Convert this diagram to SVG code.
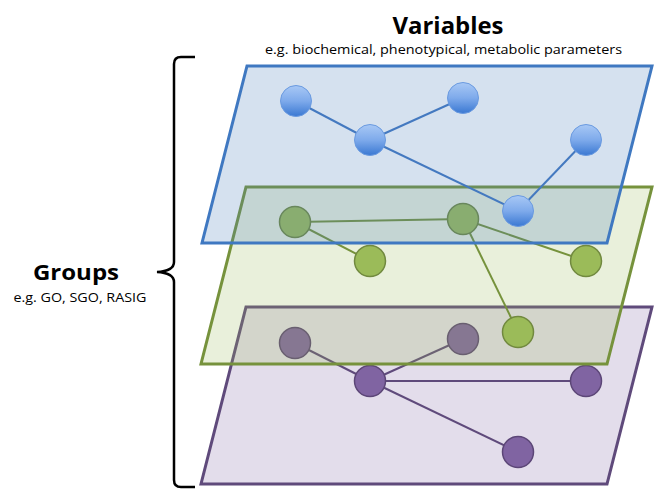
<svg xmlns="http://www.w3.org/2000/svg" width="656" height="491" viewBox="0 0 656 491">
<defs>
<linearGradient id="gBlue" x1="0" y1="0" x2="0" y2="1">
<stop offset="0" stop-color="#a8c8f5"/>
<stop offset="0.5" stop-color="#7eaaeb"/>
<stop offset="1" stop-color="#3a78d2"/>
</linearGradient>
</defs>
<style>
.title{font-family:"Open Sans","Liberation Sans",Arial,sans-serif;font-weight:bold;fill:#000}
.sub{font-family:"Open Sans","Liberation Sans",Arial,sans-serif;fill:#000}
.plane{stroke-width:3;stroke-linejoin:miter}
.pBlue{fill:#4f81bd;fill-opacity:0.24;stroke:#3f78c1}
.pGreen{fill:#9bbb59;fill-opacity:0.22;stroke:#76923c}
.pPurple{fill:#8064a2;fill-opacity:0.22;stroke:#5f4a7b}
.eBlue{stroke:#4479c0;stroke-width:2;fill:none}
.eGreen{stroke:#76923c;stroke-width:2;fill:none}
.ePurple{stroke:#5f4a7b;stroke-width:2;fill:none}
.nBlue{fill:url(#gBlue);stroke:#6a9ae0;stroke-width:1}
.nGreen{fill:#9bbb59;stroke:#71893f;stroke-width:1.5}
.nPurple{fill:#8064a2;stroke:#5c4677;stroke-width:1.5}
.brace{fill:none;stroke:#000;stroke-width:2.5}
</style>
<rect width="656" height="491" fill="#fff"/>

<text class="title" x="448" y="34" font-size="23" text-anchor="middle" textLength="111" lengthAdjust="spacingAndGlyphs">Variables</text>
<text class="sub" x="443.5" y="54" font-size="13.5" text-anchor="middle" textLength="357" lengthAdjust="spacingAndGlyphs">e.g. biochemical, phenotypical, metabolic parameters</text>
<text class="title" x="76" y="280" font-size="22" text-anchor="middle" textLength="86" lengthAdjust="spacingAndGlyphs">Groups</text>
<text class="sub" x="80" y="302" font-size="13" text-anchor="middle" textLength="133" lengthAdjust="spacingAndGlyphs">e.g. GO, SGO, RASIG</text>

<path id="brace" class="brace" d="M195,57 L181,57 Q174,57 174,64 L174,262 Q174,271 157,272 Q174,273 174,282 L174,480 Q174,487 181,487 L195,487"/>

<!-- Purple layer -->
<g id="plane-purple"><polygon class="plane pPurple" points="246,307 652,307 607,484 201,484"/></g>
<g id="connectors-purple">
<line class="ePurple" x1="295" y1="343" x2="370" y2="381"/>
<line class="ePurple" x1="463" y1="339" x2="370" y2="381"/>
<line class="ePurple" x1="370" y1="381" x2="586" y2="381"/>
<line class="ePurple" x1="370" y1="381" x2="518" y2="452"/>
</g>
<g id="purple-1"><circle class="nPurple" cx="295" cy="343" r="15.5"/></g>
<g id="purple-2"><circle class="nPurple" cx="463" cy="339" r="15.5"/></g>
<g id="purple-3"><circle class="nPurple" cx="370" cy="381" r="15.5"/></g>
<g id="purple-4"><circle class="nPurple" cx="586" cy="381" r="15.5"/></g>
<g id="purple-5"><circle class="nPurple" cx="518" cy="452" r="15.5"/></g>

<!-- Green layer -->
<g id="plane-green"><polygon class="plane pGreen" points="246,187 652,187 607,364 201,364"/></g>
<g id="connectors-green">
<line class="eGreen" x1="295" y1="222" x2="463" y2="219"/>
<line class="eGreen" x1="295" y1="222" x2="370" y2="261"/>
<line class="eGreen" x1="463" y1="219" x2="586" y2="261"/>
<line class="eGreen" x1="463" y1="219" x2="518" y2="332"/>
</g>
<g id="green-1"><circle class="nGreen" cx="295" cy="222" r="15.5"/></g>
<g id="green-2"><circle class="nGreen" cx="463" cy="219" r="15.5"/></g>
<g id="green-3"><circle class="nGreen" cx="370" cy="261" r="15.5"/></g>
<g id="green-4"><circle class="nGreen" cx="586" cy="261" r="15.5"/></g>
<g id="green-5"><circle class="nGreen" cx="518" cy="332" r="15.5"/></g>

<!-- Blue layer -->
<g id="plane-blue"><polygon class="plane pBlue" points="247,66 652,66 607,243 202,243"/></g>
<g id="connectors-blue">
<line class="eBlue" x1="296" y1="101" x2="370" y2="140"/>
<line class="eBlue" x1="370" y1="140" x2="463" y2="98"/>
<line class="eBlue" x1="370" y1="140" x2="518" y2="211"/>
<line class="eBlue" x1="518" y1="211" x2="586" y2="140"/>
</g>
<g id="blue-1"><circle class="nBlue" cx="296" cy="101" r="15.5"/></g>
<g id="blue-2"><circle class="nBlue" cx="463" cy="98" r="15.5"/></g>
<g id="blue-3"><circle class="nBlue" cx="370" cy="140" r="15.5"/></g>
<g id="blue-4"><circle class="nBlue" cx="586" cy="140" r="15.5"/></g>
<g id="blue-5"><circle class="nBlue" cx="518" cy="211" r="15.5"/></g>
</svg>
